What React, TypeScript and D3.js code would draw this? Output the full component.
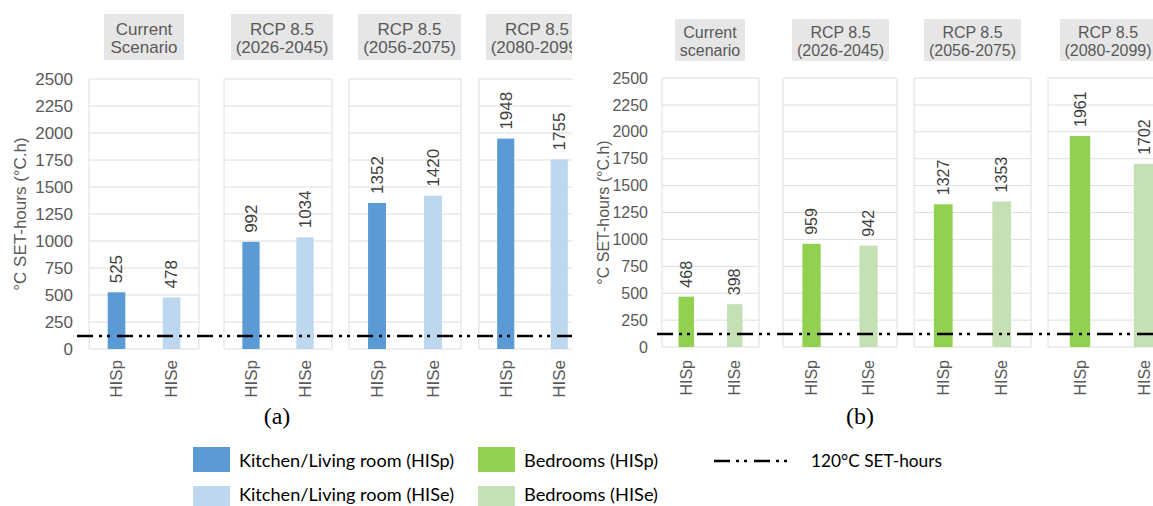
import React from "react";
import * as d3 from "d3";

// ---------- data ----------
const categories = ["HISp", "HISe"];
const headersA = [
  ["Current", "Scenario"],
  ["RCP 8.5", "(2026-2045)"],
  ["RCP 8.5", "(2056-2075)"],
  ["RCP 8.5", "(2080-2099)"],
];
const headersB = [
  ["Current", "scenario"],
  ["RCP 8.5", "(2026-2045)"],
  ["RCP 8.5", "(2056-2075)"],
  ["RCP 8.5", "(2080-2099)"],
];
const kitchenHISp = [525, 992, 1352, 1948];
const kitchenHISe = [478, 1034, 1420, 1755];
const bedroomsHISp = [468, 959, 1327, 1961];
const bedroomsHISe = [398, 942, 1353, 1702];
const yTicks = [0, 250, 500, 750, 1000, 1250, 1500, 1750, 2000, 2250, 2500];
const thresholdValue = 120;
const yTitle = "°C SET-hours (°C.h)";
const legendLabels = [
  "Kitchen/Living room (HISp)",
  "Kitchen/Living room (HISe)",
  "Bedrooms (HISp)",
  "Bedrooms (HISe)",
  "120°C SET-hours",
];

// ---------- styles ----------
const COLORS = {
  kitchenP: "#5B9BD5",
  kitchenE: "#BDD7EE",
  bedP: "#92D050",
  bedE: "#C5E0B4",
  grid: "#DEDEDE",
  header: "#E6E6E6",
  text: "#595959",
  value: "#404040",
};
const DASH = "16,6,3,5,3,7";
const FONT = "'Liberation Sans', Arial, sans-serif";

type Layout = {
  panels: number[][];
  headers: number[][];
  headerY: number[];
  headerBaselines: number[];
  yRange: number[];
  tickX: number;
  titleX: number;
  lineX0: number;
  clipX1: number;
  xLabelY: number;
  fontSize: number;
};

const layoutA: Layout = {
  panels: [[89, 199], [224, 332], [349, 461], [479, 586]],
  headers: [[104, 184], [231, 333], [358, 461], [486, 588]],
  headerY: [14, 60],
  headerBaselines: [35, 53],
  yRange: [349, 79],
  tickX: 73,
  titleX: 20,
  lineX0: 77,
  clipX1: 572,
  xLabelY: 360,
  fontSize: 17,
};
const layoutB: Layout = {
  panels: [[662, 759], [783, 897], [914, 1031], [1048, 1176]],
  headers: [[675, 745], [792, 889], [924, 1021], [1060, 1156]],
  headerY: [19, 61],
  headerBaselines: [38, 56],
  yRange: [347, 78],
  tickX: 648,
  titleX: 603,
  lineX0: 657,
  clipX1: 1153,
  xLabelY: 360,
  fontSize: 16,
};

function Chart({
  id,
  layout,
  headers,
  seriesP,
  seriesE,
  colorP,
  colorE,
}: {
  id: string;
  layout: Layout;
  headers: string[][];
  seriesP: number[];
  seriesE: number[];
  colorP: string;
  colorE: string;
}) {
  const y = d3.scaleLinear().domain([0, 2500]).range(layout.yRange);
  const fs = layout.fontSize;
  const yMid = (layout.yRange[0] + layout.yRange[1]) / 2;
  return (
    <g>
      <defs>
        <clipPath id={id}>
          <rect x={0} y={0} width={layout.clipX1} height={506} />
        </clipPath>
      </defs>
      {yTicks.map((t) => (
        <text
          key={t}
          x={layout.tickX}
          y={y(t)}
          dy="0.35em"
          textAnchor="end"
          fontSize={fs}
          fill={COLORS.text}
          fontFamily={FONT}
        >
          {t}
        </text>
      ))}
      <text
        transform={`translate(${layout.titleX},${yMid}) rotate(-90)`}
        textAnchor="middle"
        dy="0.35em"
        fontSize={fs}
        fill={COLORS.text}
        fontFamily={FONT}
      >
        {yTitle}
      </text>
      <g clipPath={`url(#${id})`}>
        {layout.panels.map((p, i) => {
          const x = d3.scalePoint().domain(categories).range([p[0], p[1]]).padding(0.5);
          const bw = x.step() * 0.32;
          const vals = [seriesP[i], seriesE[i]];
          const cols = [colorP, colorE];
          const h = layout.headers[i];
          return (
            <g key={i}>
              <rect
                x={h[0]}
                y={layout.headerY[0]}
                width={h[1] - h[0]}
                height={layout.headerY[1] - layout.headerY[0]}
                fill={COLORS.header}
              />
              {headers[i].map((line, j) => (
                <text
                  key={j}
                  x={(h[0] + h[1]) / 2}
                  y={layout.headerBaselines[j]}
                  textAnchor="middle"
                  fontSize={fs}
                  fill={COLORS.text}
                  fontFamily={FONT}
                >
                  {line}
                </text>
              ))}
              {yTicks.map((t) => (
                <line
                  key={t}
                  x1={p[0]}
                  x2={p[1]}
                  y1={y(t)}
                  y2={y(t)}
                  stroke={COLORS.grid}
                  strokeWidth={1}
                />
              ))}
              <line x1={p[0]} x2={p[0]} y1={y(0)} y2={y(2500)} stroke={COLORS.grid} />
              <line x1={p[1]} x2={p[1]} y1={y(0)} y2={y(2500)} stroke={COLORS.grid} />
              {categories.map((c, k) => (
                <g key={c}>
                  <rect
                    x={(x(c) as number) - bw / 2}
                    y={y(vals[k])}
                    width={bw}
                    height={y(0) - y(vals[k])}
                    fill={cols[k]}
                  />
                  <text
                    transform={`translate(${x(c)},${y(vals[k]) - 9}) rotate(-90)`}
                    dy="0.35em"
                    textAnchor="start"
                    fontSize={fs}
                    fill={COLORS.value}
                    fontFamily={FONT}
                  >
                    {vals[k]}
                  </text>
                  <text
                    transform={`translate(${x(c)},${layout.xLabelY}) rotate(-90)`}
                    dy="0.35em"
                    textAnchor="end"
                    fontSize={fs}
                    fill={COLORS.text}
                    fontFamily={FONT}
                  >
                    {c}
                  </text>
                </g>
              ))}
            </g>
          );
        })}
        <line
          x1={layout.lineX0}
          x2={layout.clipX1}
          y1={y(thresholdValue)}
          y2={y(thresholdValue)}
          stroke="#000"
          strokeWidth={2.5}
          strokeDasharray={DASH}
        />
      </g>
    </g>
  );
}

export default function App() {
  const legendFont = "Lato, 'Open Sans', sans-serif";
  const swatches = [
    { x: 193, y: 447, c: COLORS.kitchenP, label: legendLabels[0], tx: 239, tw: 215, ty: 467 },
    { x: 193, y: 486, c: COLORS.kitchenE, label: legendLabels[1], tx: 239, tw: 215, ty: 501 },
    { x: 478, y: 447, c: COLORS.bedP, label: legendLabels[2], tx: 524, tw: 134, ty: 467 },
    { x: 478, y: 486, c: COLORS.bedE, label: legendLabels[3], tx: 524, tw: 134, ty: 501 },
  ];
  return (
    <svg
      width={1153}
      height={506}
      style={{ position: "absolute", left: 0, top: 0, background: "#fff" }}
    >
      <rect x={0} y={0} width={1153} height={506} fill="#fff" />
      <Chart
        id="clipA"
        layout={layoutA}
        headers={headersA}
        seriesP={kitchenHISp}
        seriesE={kitchenHISe}
        colorP={COLORS.kitchenP}
        colorE={COLORS.kitchenE}
      />
      <Chart
        id="clipB"
        layout={layoutB}
        headers={headersB}
        seriesP={bedroomsHISp}
        seriesE={bedroomsHISe}
        colorP={COLORS.bedP}
        colorE={COLORS.bedE}
      />
      <text x={277} y={424} textAnchor="middle" fontSize={24} fontFamily="'Liberation Serif', 'Times New Roman', serif" fill="#000">
        (a)
      </text>
      <text x={860} y={424} textAnchor="middle" fontSize={24} fontFamily="'Liberation Serif', 'Times New Roman', serif" fill="#000">
        (b)
      </text>
      {swatches.map((s) => (
        <g key={s.label}>
          <rect x={s.x} y={s.y} width={37} height={25} fill={s.c} />
          <text
            x={s.tx}
            y={s.ty}
            fontSize={16.5}
            fontFamily={legendFont}
            fill="#000"
            textLength={s.tw}
            lengthAdjust="spacingAndGlyphs"
          >
            {s.label}
          </text>
        </g>
      ))}
      <line x1={714} x2={794} y1={461} y2={461} stroke="#000" strokeWidth={2.5} strokeDasharray={DASH} />
      <text
        x={811}
        y={467}
        fontSize={16.5}
        fontFamily={legendFont}
        fill="#000"
        textLength={131}
        lengthAdjust="spacingAndGlyphs"
      >
        {legendLabels[4]}
      </text>
    </svg>
  );
}
